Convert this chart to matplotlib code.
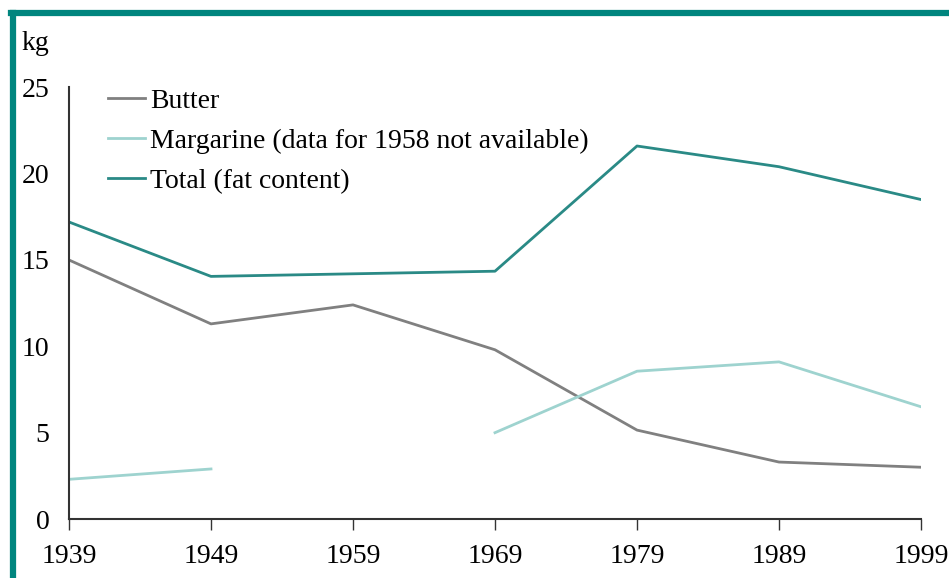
import numpy as np
import matplotlib.pyplot as plt
from matplotlib.lines import Line2D

# data (kg per person)
years = [1939, 1949, 1959, 1969, 1979, 1989, 1999]
butter = [15.0, 11.3, 12.4, 9.8, 5.15, 3.3, 3.0]
margarine = [2.3, 2.9, np.nan, 5.0, 8.56, 9.1, 6.5]   # 1958 missing
total = [17.2, 14.05, 14.2, 14.35, 21.6, 20.4, 18.5]

plt.rcParams['font.family'] = ['Liberation Serif', 'DejaVu Serif']

fig = plt.figure(figsize=(9.49, 5.78), dpi=100)
ax = fig.add_axes([0.0727, 0.102, 0.8978, 0.747])

ax.plot(years, butter, color='#808080', lw=2, label='Butter')
ax.plot(years, margarine, color='#9ed3cf', lw=2,
        label='Margarine (data for 1958 not available)')
ax.plot(years, total, color='#2a8a86', lw=2, label='Total (fat content)')

ax.set_xlim(1939, 1999)
ax.set_ylim(0, 25)
ax.set_xticks(years)
ax.set_yticks([0, 5, 10, 15, 20, 25])
for s in ['top', 'right']:
    ax.spines[s].set_visible(False)
for s in ['left', 'bottom']:
    ax.spines[s].set_color('#333333')
    ax.spines[s].set_linewidth(1.5)
ax.tick_params(axis='y', length=0, pad=14, labelsize=20)
ax.tick_params(axis='x', length=8, width=1, color='#333333', pad=10, labelsize=20)

fig.text(0.023, 0.925, 'kg', fontsize=20, va='center')

ax.legend(loc='upper left', bbox_to_anchor=(0.017, 1.055), frameon=False,
          fontsize=20, handlelength=1.3, handletextpad=0.2, labelspacing=0.52)

# teal frame on left and top
fig.add_artist(Line2D([0.0142, 0.0142], [0, 0.978], color='#00857e', lw=4.5))
fig.add_artist(Line2D([0.0118, 1.0], [0.978, 0.978], color='#00857e', lw=4.5))

plt.savefig('out.png', dpi=100)
